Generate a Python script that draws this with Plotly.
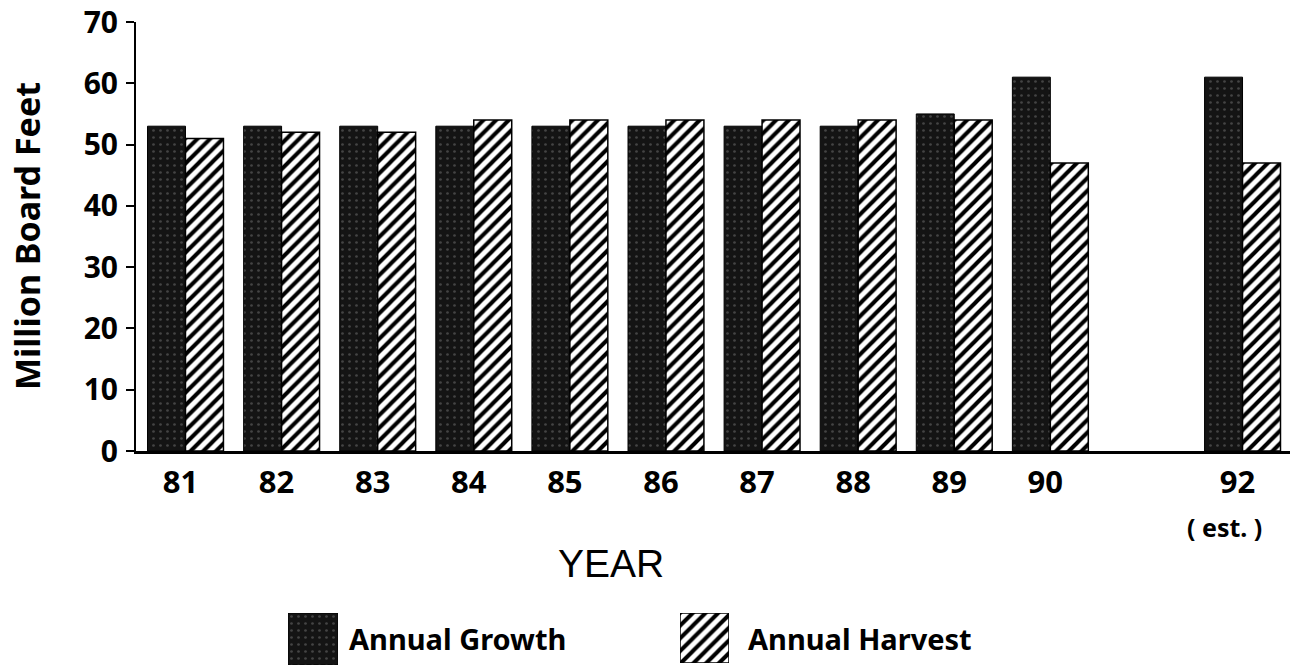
import plotly.graph_objects as go

years = [81, 82, 83, 84, 85, 86, 87, 88, 89, 90, 92]
tick_labels = ["81", "82", "83", "84", "85", "86", "87", "88", "89", "90", "92"]
annual_growth = [53, 53, 53, 53, 53, 53, 53, 53, 55, 61, 61]
annual_harvest = [51, 52, 52, 54, 54, 54, 54, 54, 54, 47, 47]
y_ticks = [0, 10, 20, 30, 40, 50, 60, 70]

W, H = 1292, 669
FONT = "Noto Sans"

def px_x(p):
    return p / W

def px_y(p):
    return (H - p) / H

growth_marker = dict(color="#141414", line=dict(color="black", width=1),
                     pattern=dict(shape=".", fgcolor="#444444", bgcolor="#141414",
                                  size=7, solidity=0.12))
harvest_marker = dict(color="white", line=dict(color="black", width=1.5),
                      pattern=dict(shape="/", fgcolor="black", bgcolor="white",
                                   size=9, solidity=0.45))

fig = go.Figure()

fig.add_trace(go.Bar(x=years, y=annual_growth, name="Annual Growth",
                     marker=growth_marker, xaxis="x", yaxis="y", showlegend=False))
fig.add_trace(go.Bar(x=years, y=annual_harvest, name="Annual Harvest",
                     marker=harvest_marker, xaxis="x", yaxis="y", showlegend=False))

# legend swatches (single bars on tiny dedicated axes)
fig.add_trace(go.Bar(x=[0], y=[1], width=[1], xaxis="x2", yaxis="y2", showlegend=False,
                     hoverinfo="skip", marker=growth_marker))
fig.add_trace(go.Bar(x=[0], y=[1], width=[1], xaxis="x3", yaxis="y3", showlegend=False,
                     hoverinfo="skip", marker=harvest_marker))

plot_left, plot_right, plot_top, plot_bottom = 136, 1290, 22, 451

fig.update_layout(
    template="none",
    width=W, height=H,
    margin=dict(l=0, r=0, t=0, b=0, pad=0),
    paper_bgcolor="white", plot_bgcolor="white",
    barmode="group", bargap=0.21, bargroupgap=0,
    font=dict(family=FONT, color="black"),
    xaxis=dict(
        domain=[px_x(plot_left), px_x(plot_right)],
        range=[80.485, 92.494], automargin=False,
        tickmode="array", tickvals=years, ticktext=tick_labels,
        tickfont=dict(family=FONT, size=31, weight="bold", color="black"),
        ticks="", ticklabelstandoff=2, ticklabelshift=-5,
        ticklabeloverflow="allow",
        showline=True, linecolor="black", linewidth=2.5,
        showgrid=False, zeroline=False, anchor="y",
    ),
    yaxis=dict(
        domain=[px_y(plot_bottom), px_y(plot_top)],
        range=[0, 70], automargin=False,
        tickmode="array", tickvals=y_ticks,
        tickfont=dict(family=FONT, size=30, weight="bold", color="black"),
        ticks="outside", ticklen=8, tickwidth=1.5, tickcolor="black",
        ticklabelstandoff=2, ticklabeloverflow="allow",
        showline=True, linecolor="black", linewidth=2,
        showgrid=False, zeroline=False, anchor="x",
    ),
    yaxis4=dict(
        overlaying="y", anchor="x", range=[0, 70], automargin=False,
        tickmode="array", tickvals=y_ticks,
        ticks="inside", ticklen=7, tickwidth=1.5, tickcolor="black",
        showticklabels=False, showline=False, showgrid=False, zeroline=False,
    ),
    xaxis2=dict(domain=[px_x(288), px_x(338)], range=[-0.5, 0.5], visible=False,
                anchor="y2", automargin=False),
    yaxis2=dict(domain=[px_y(665), px_y(613)], range=[0, 1], visible=False,
                anchor="x2", automargin=False),
    xaxis3=dict(domain=[px_x(680), px_x(729)], range=[-0.5, 0.5], visible=False,
                anchor="y3", automargin=False),
    yaxis3=dict(domain=[px_y(663), px_y(613)], range=[0, 1], visible=False,
                anchor="x3", automargin=False),
)

annotations = [
    dict(text="Million Board Feet", x=px_x(27), y=px_y(236), xref="paper", yref="paper",
         textangle=-90, showarrow=False, xanchor="center", yanchor="middle",
         font=dict(family=FONT, size=34, weight="bold", color="black")),
    dict(text="YEAR", x=px_x(611), y=px_y(563), xref="paper", yref="paper",
         showarrow=False, xanchor="center", yanchor="middle",
         font=dict(family="Liberation Sans", size=39, color="black")),
    dict(text="( est. )", x=92, y=px_y(527), xref="x", yref="paper", xshift=-18,
         showarrow=False, xanchor="center", yanchor="middle",
         font=dict(family=FONT, size=25, weight="bold", color="black")),
    dict(text="Annual Growth", x=px_x(347), y=px_y(638), xref="paper", yref="paper",
         showarrow=False, xanchor="left", yanchor="middle",
         font=dict(family=FONT, size=29, weight="bold", color="black")),
    dict(text="Annual Harvest", x=px_x(746), y=px_y(638), xref="paper", yref="paper",
         showarrow=False, xanchor="left", yanchor="middle",
         font=dict(family=FONT, size=29, weight="bold", color="black")),
]
fig.update_layout(annotations=annotations)

# remove the default page margin so the figure fills the window exactly
fig.write_html("out.html", config={"displayModeBar": False},
               post_script="document.body.style.margin='0';")
